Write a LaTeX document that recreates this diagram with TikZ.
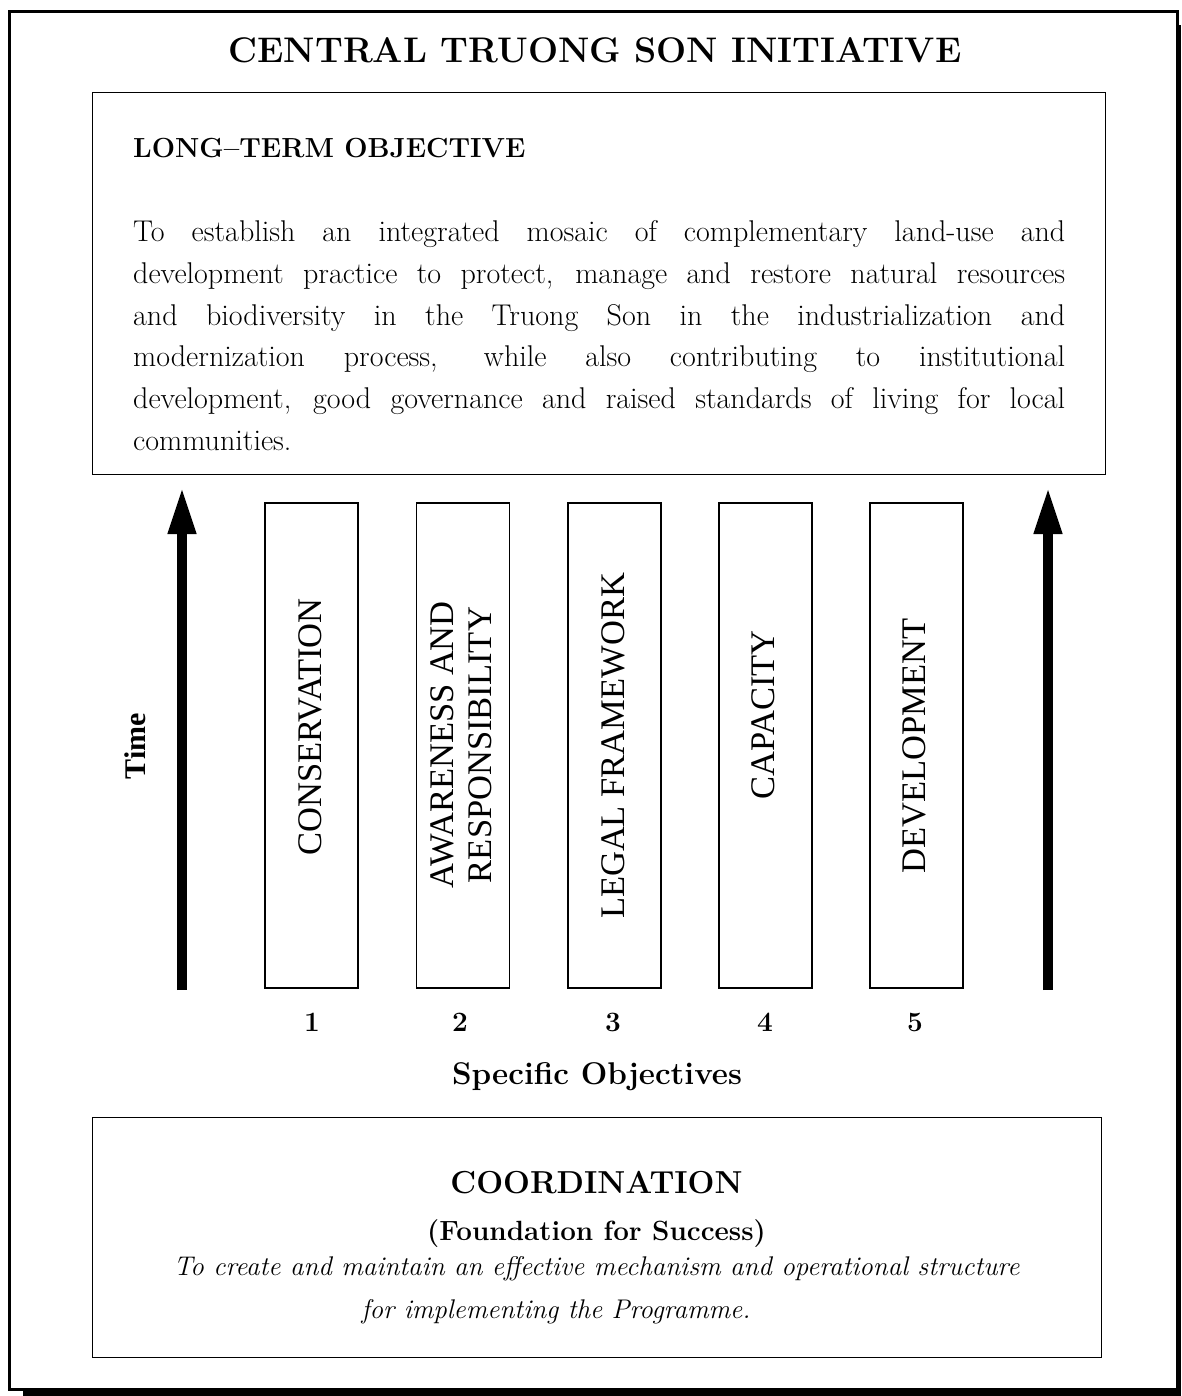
\documentclass[tikz,border=0pt]{standalone}
\usepackage{fontspec}
\newfontfamily\timesf{Liberation Serif}
\usetikzlibrary{arrows.meta}
\begin{document}
\begin{tikzpicture}[x=1pt,y=-1pt,
  frame/.style={draw, line width=3pt, fill=white},
  bigbox/.style={draw, line width=1.4pt, anchor=north west, inner sep=0pt},
  objbox/.style={draw, line width=1.4pt, minimum width=93pt, minimum height=485pt, inner sep=0pt},
  vlabel/.style={rotate=90, font=\timesf\fontsize{34.5}{38}\selectfont, align=center, inner sep=0pt},
  timearrow/.style={line width=10pt, -{Triangle[length=47pt,width=26pt]}},
  para/.style={anchor=base west, inner sep=0pt, font=\fontsize{30}{41.6}\selectfont},
  numlab/.style={anchor=base, inner sep=0pt, font=\bfseries\fontsize{28}{30}\selectfont},
  ital/.style={anchor=base, inner sep=0pt, font=\itshape\fontsize{27}{30}\selectfont}
]
\useasboundingbox (0,0) rectangle (1181,1396);
% shadow and frame
\fill[black] (23,25) rectangle (1181,1396);
\draw[frame] (9.5,11.5) rectangle (1177,1389);

% title
\node[anchor=base, inner sep=0pt, font=\bfseries\fontsize{35.6}{40}\selectfont] (title) at (595,63) {CENTRAL TRUONG SON INITIATIVE};

% long-term objective box
\node[bigbox, minimum width=1013pt, minimum height=382pt] (ltobox) at (92,92) {};
\node[anchor=base west, inner sep=0pt, font=\bfseries\fontsize{27.6}{30}\selectfont] (lthead) at (133,158) {LONG\textendash TERM OBJECTIVE};
\node[para] (p1) at (133,242) {\makebox[932pt][s]{To establish an integrated mosaic of complementary land-use and}};
\node[para] (p2) at (133,283.6) {\makebox[932pt][s]{development practice to protect, manage and restore natural resources}};
\node[para] (p3) at (133,325.2) {\makebox[932pt][s]{and biodiversity in the Truong Son in the industrialization and}};
\node[para] (p4) at (133,366.8) {\makebox[932pt][s]{modernization process, while also contributing to institutional}};
\node[para] (p5) at (133,408.4) {\makebox[932pt][s]{development, good governance and raised standards of living for local}};
\node[para] (p6) at (133,450) {communities.};

% time arrows
\coordinate (la0) at (182,990);
\coordinate (la1) at (182,487);
\coordinate (ra0) at (1048,990);
\coordinate (ra1) at (1048,487);
\draw[timearrow] (la0) -- (la1);
\draw[timearrow] (ra0) -- (ra1);
\node[rotate=90, inner sep=0pt, font=\timesf\bfseries\fontsize{30}{34}\selectfont] (time) at (135,746) {Time};

% objective boxes
\node[objbox] (o1) at (311.5,745.5) {};
\node[objbox] (o2) at (463,745.5) {};
\node[objbox] (o3) at (614.5,745.5) {};
\node[objbox] (o4) at (765.5,745.5) {};
\node[objbox] (o5) at (916.5,745.5) {};
\node[vlabel] (t1) at (310,727) {CONSERVATION};
\node[vlabel] (t2) at (461,745) {AWARENESS AND\\RESPONSIBILITY};
\node[vlabel] (t3) at (613,746) {LEGAL FRAMEWORK};
\node[vlabel] (t4) at (763,715) {CAPACITY};
\node[vlabel] (t5) at (914,746) {DEVELOPMENT};

% numbers
\node[numlab] (n1) at (312,1031) {1};
\node[numlab] (n2) at (460,1031) {2};
\node[numlab] (n3) at (613,1031) {3};
\node[numlab] (n4) at (765,1031) {4};
\node[numlab] (n5) at (915,1031) {5};
\node[anchor=base, inner sep=0pt, font=\bfseries\fontsize{31.4}{34}\selectfont] (spec) at (597,1084) {Specific Objectives};

% coordination box
\node[bigbox, minimum width=1009pt, minimum height=240pt] (coordbox) at (92,1117) {};
\node[anchor=base, inner sep=0pt, font=\bfseries\fontsize{31.8}{34}\selectfont] (coord) at (596.5,1193) {COORDINATION};
\node[anchor=base, inner sep=0pt, font=\bfseries\fontsize{27.8}{30}\selectfont] (found) at (596.5,1240) {(Foundation for Success)};
\node[ital] (c1) at (596.5,1275) {To create and maintain an effective mechanism and operational structure};
\node[ital] (c2) at (556,1318) {for implementing the Programme.};
\end{tikzpicture}
\end{document}
